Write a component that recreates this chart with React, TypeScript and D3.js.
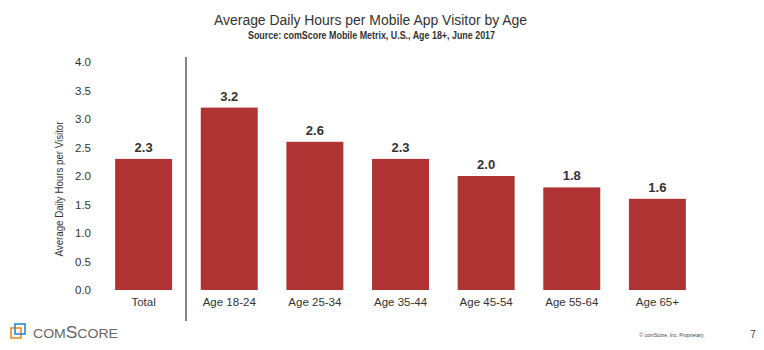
import { useEffect, useRef } from "react";
import * as d3 from "d3";

const CATEGORIES = ["Total", "Age 18-24", "Age 25-34", "Age 35-44", "Age 45-54", "Age 55-64", "Age 65+"];
const HOURS = [2.3, 3.2, 2.6, 2.3, 2.0, 1.8, 1.6];
const Y_TICKS = [0, 0.5, 1, 1.5, 2, 2.5, 3, 3.5, 4];

const W = 764;
const H = 350;
const BAR = "#b03333";
const TXT = "#333333";
const SANS = "'Liberation Sans', Arial, sans-serif";

export default function App() {
  const svgRef = useRef<SVGSVGElement>(null);

  useEffect(() => {
    const svg = d3.select(svgRef.current);
    svg.selectAll("*").remove();

    const x = d3.scaleBand().domain(CATEGORIES).range([101, 700]).paddingInner(0.335).paddingOuter(0.165);
    const y = d3.scaleLinear().domain([0, 4]).range([290, 62]);

    // titles (narrow face faked with textLength)
    svg.append("text").attr("x", 214).attr("y", 25)
      .attr("font-family", SANS).attr("font-size", 15.5).attr("fill", TXT)
      .attr("textLength", 313).attr("lengthAdjust", "spacingAndGlyphs")
      .text("Average Daily Hours per Mobile App Visitor by Age");
    svg.append("text").attr("x", 248).attr("y", 39)
      .attr("font-family", SANS).attr("font-weight", "bold").attr("font-size", 10).attr("fill", TXT)
      .attr("textLength", 247).attr("lengthAdjust", "spacingAndGlyphs")
      .text("Source: comScore Mobile Metrix, U.S., Age 18+, June 2017");

    // y axis ticks
    const yAxis = d3.axisLeft(y).tickValues(Y_TICKS).tickFormat(d3.format(".1f")).tickSize(0).tickPadding(0);
    svg.append("g").attr("transform", "translate(91,0)").call(yAxis)
      .call(g => {
        g.select(".domain").remove();
        g.selectAll("text").attr("fill", TXT).attr("font-size", 11.5).attr("font-family", SANS);
      });

    svg.append("text").attr("transform", `translate(63,189) rotate(-90)`)
      .attr("text-anchor", "middle").attr("font-family", SANS).attr("font-size", 10).attr("fill", TXT)
      .attr("textLength", 135).attr("lengthAdjust", "spacingAndGlyphs")
      .text("Average Daily Hours per Visitor");

    // bars
    svg.append("g").selectAll("rect").data(CATEGORIES).join("rect")
      .attr("x", d => x(d)!).attr("width", x.bandwidth())
      .attr("y", (d, i) => y(HOURS[i])).attr("height", (d, i) => y(0) - y(HOURS[i]))
      .attr("fill", BAR);

    // value labels
    svg.append("g").selectAll("text").data(CATEGORIES).join("text")
      .attr("x", d => x(d)! + x.bandwidth() / 2).attr("y", (d, i) => y(HOURS[i]) - 7)
      .attr("text-anchor", "middle").attr("font-family", SANS).attr("font-weight", "bold")
      .attr("font-size", 13).attr("fill", TXT)
      .text((d, i) => d3.format(".1f")(HOURS[i]));

    // x axis labels
    const xAxis = d3.axisBottom(x).tickSize(0).tickPadding(8);
    svg.append("g").attr("transform", `translate(0,${y(0)})`).call(xAxis)
      .call(g => {
        g.select(".domain").remove();
        g.selectAll("text").attr("fill", TXT).attr("font-size", 11.5).attr("font-family", SANS);
      });

    // separator
    svg.append("line").attr("x1", 186).attr("x2", 186).attr("y1", 57).attr("y2", 321)
      .attr("stroke", "#333").attr("stroke-width", 1.2);

    // footer logo
    const logo = svg.append("g").attr("transform", "translate(11,324)");
    logo.append("rect").attr("x", 0).attr("y", 4).attr("width", 10).attr("height", 10)
      .attr("fill", "none").attr("stroke", "#f08a24").attr("stroke-width", 1.6);
    logo.append("rect").attr("x", 4).attr("y", 0).attr("width", 10).attr("height", 10)
      .attr("fill", "none").attr("stroke", "#2f86c9").attr("stroke-width", 1.6);
    const brand = logo.append("text").attr("x", 22).attr("y", 14).attr("font-family", SANS)
      .attr("fill", "#666").attr("textLength", 85).attr("lengthAdjust", "spacingAndGlyphs");
    brand.append("tspan").attr("font-size", 13).text("COM");
    brand.append("tspan").attr("font-size", 16).text("S");
    brand.append("tspan").attr("font-size", 13).text("CORE");

    svg.append("text").attr("x", 672).attr("y", 337).attr("text-anchor", "middle")
      .attr("font-family", SANS).attr("font-size", 5).attr("fill", "#444")
      .text("© comScore, Inc. Proprietary.");
    svg.append("text").attr("x", 753).attr("y", 338).attr("text-anchor", "middle")
      .attr("font-family", SANS).attr("font-size", 10).attr("fill", "#444")
      .text("7");
  }, []);

  return (
    <div style={{ position: "absolute", left: 0, top: 0 }}>
      <svg ref={svgRef} width={W} height={H} style={{ display: "block", background: "#fff" }} />
    </div>
  );
}
